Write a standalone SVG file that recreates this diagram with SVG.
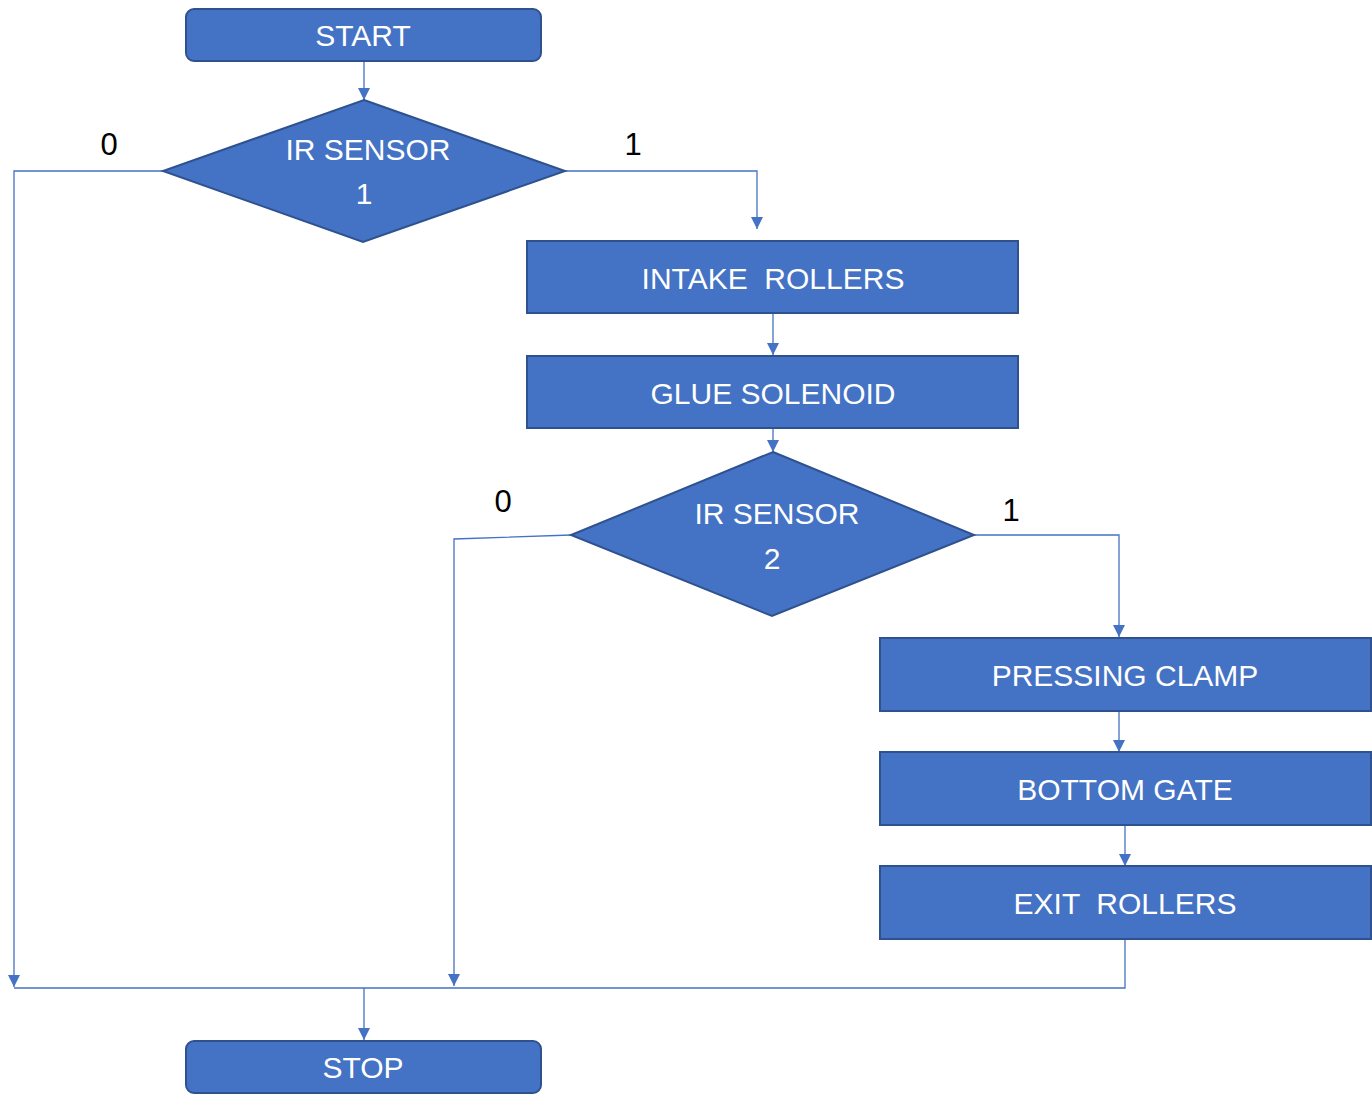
<svg xmlns="http://www.w3.org/2000/svg" width="1372" height="1113" viewBox="0 0 1372 1113">
<defs>
<marker id="arr" viewBox="0 0 10 10" refX="10" refY="5" markerWidth="12" markerHeight="12" markerUnits="userSpaceOnUse" orient="auto">
<path d="M0,0 L10,5 L0,10 Z" fill="#4472C4"/>
</marker>
<style>
.box{fill:#4472C4;stroke:#2F528F;stroke-width:2}
.t{fill:#fff;font-family:"Liberation Sans",Arial,sans-serif;font-size:30px;text-anchor:middle;white-space:pre}
.lb{fill:#000;font-family:"Liberation Sans",Arial,sans-serif;font-size:31px;text-anchor:middle}
.c{fill:none;stroke:#4472C4;stroke-width:1.3}
.ca{fill:none;stroke:#4472C4;stroke-width:1.3;marker-end:url(#arr)}
</style>
</defs>
<rect width="1372" height="1113" fill="#fff"/>
<g id="connectors">
<path class="ca" d="M364,61 V100"/>
<path class="ca" d="M163,171 H14 V987"/>
<path class="ca" d="M565,171 H757 V229"/>
<path class="ca" d="M773,313 V355"/>
<path class="ca" d="M773,428 V452"/>
<path class="ca" d="M571,535 L454,539 V986"/>
<path class="ca" d="M974,535 H1119 V637"/>
<path class="ca" d="M1119,711 V752"/>
<path class="ca" d="M1125,825 V866"/>
<path class="c" d="M1125,939 V988 H14"/>
<path class="ca" d="M364,988 V1040"/>
<text class="lb" x="109" y="155">0</text>
<text class="lb" x="633" y="155">1</text>
<text class="lb" x="503" y="512">0</text>
<text class="lb" x="1011" y="521">1</text>
</g>
<g id="start">
<rect class="box" x="186" y="9" width="355" height="52" rx="8"/>
<text class="t" x="363" y="46">START</text>
</g>
<g id="ir1">
<path class="box" d="M364,100 L565,171 L363,242 L163,171 Z"/>
<text class="t" x="368" y="160">IR SENSOR</text>
<text class="t" x="364" y="204">1</text>
</g>
<g id="intake">
<rect class="box" x="527" y="241" width="491" height="72"/>
<text class="t" x="773" y="289">INTAKE  ROLLERS</text>
</g>
<g id="glue">
<rect class="box" x="527" y="356" width="491" height="72"/>
<text class="t" x="773" y="404">GLUE SOLENOID</text>
</g>
<g id="ir2">
<path class="box" d="M773,452 L974,535 L772,616 L571,535 Z"/>
<text class="t" x="777" y="524">IR SENSOR</text>
<text class="t" x="772" y="569">2</text>
</g>
<g id="pressing">
<rect class="box" x="880" y="638" width="491" height="73"/>
<text class="t" x="1125" y="686">PRESSING CLAMP</text>
</g>
<g id="bottomgate">
<rect class="box" x="880" y="752" width="491" height="73"/>
<text class="t" x="1125" y="800">BOTTOM GATE</text>
</g>
<g id="exit">
<rect class="box" x="880" y="866" width="491" height="73"/>
<text class="t" x="1125" y="914">EXIT  ROLLERS</text>
</g>
<g id="stop">
<rect class="box" x="186" y="1041" width="355" height="52" rx="8"/>
<text class="t" x="363" y="1078">STOP</text>
</g>
</svg>
